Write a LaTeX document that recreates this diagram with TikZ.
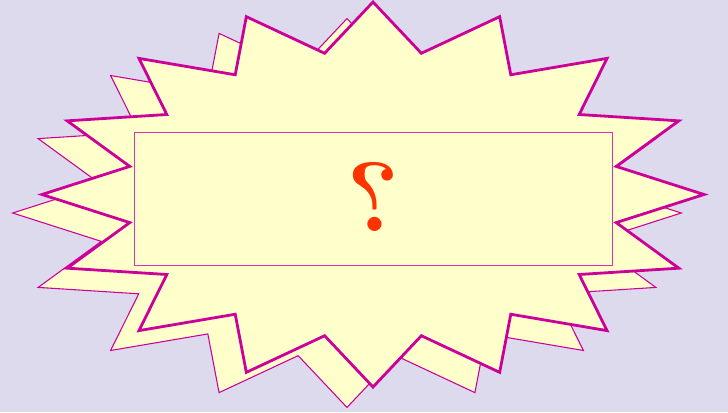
\documentclass[tikz,border=0pt]{standalone}
\usepackage{graphicx}
\usetikzlibrary{calc}
\definecolor{burstbg}{HTML}{DCDAEC}
\definecolor{burstfill}{HTML}{FFFFCC}
\definecolor{burstline}{HTML}{CC0099}
\definecolor{querymark}{HTML}{FF3300}

\begin{document}
\begin{tikzpicture}[
    x=0.75pt,y=-0.75pt,
    burst/.style={draw=burstline,fill=burstfill,line join=miter},
    panelbox/.style={draw=burstline!80,line width=0.7pt,minimum width=358.5pt,
      minimum height=99.75pt,inner sep=0pt},
    querytext/.style={text=querymark,inner sep=0pt,
      font=\bfseries\fontsize{74}{74}\selectfont}
  ]
    \fill[burstbg] (0,0) rectangle (728,412);
    \useasboundingbox (0,0) rectangle (728,412);
    % back copy first, then the front burst
    \foreach \dx/\dy/\sc/\wd in {-26/18.5/1.01/0.8pt,0/0/1/2.1pt} {
      \draw[burst,line width=\wd] plot[samples at={0,...,31}]
        ({373+\dx+\sc*ifthenelse(mod(\x,2)==0,331,248)*sin(\x*11.25)},
         {194.5+\dy-\sc*ifthenelse(mod(\x,2)==0,192.5,144)*cos(\x*11.25)})
        -- cycle;
    }
    \node[panelbox] (panel) at (373,198.5) {};
    \node[querytext] (query) at (373,196.5) {\reflectbox{?}};
  \end{tikzpicture}
\end{document}
